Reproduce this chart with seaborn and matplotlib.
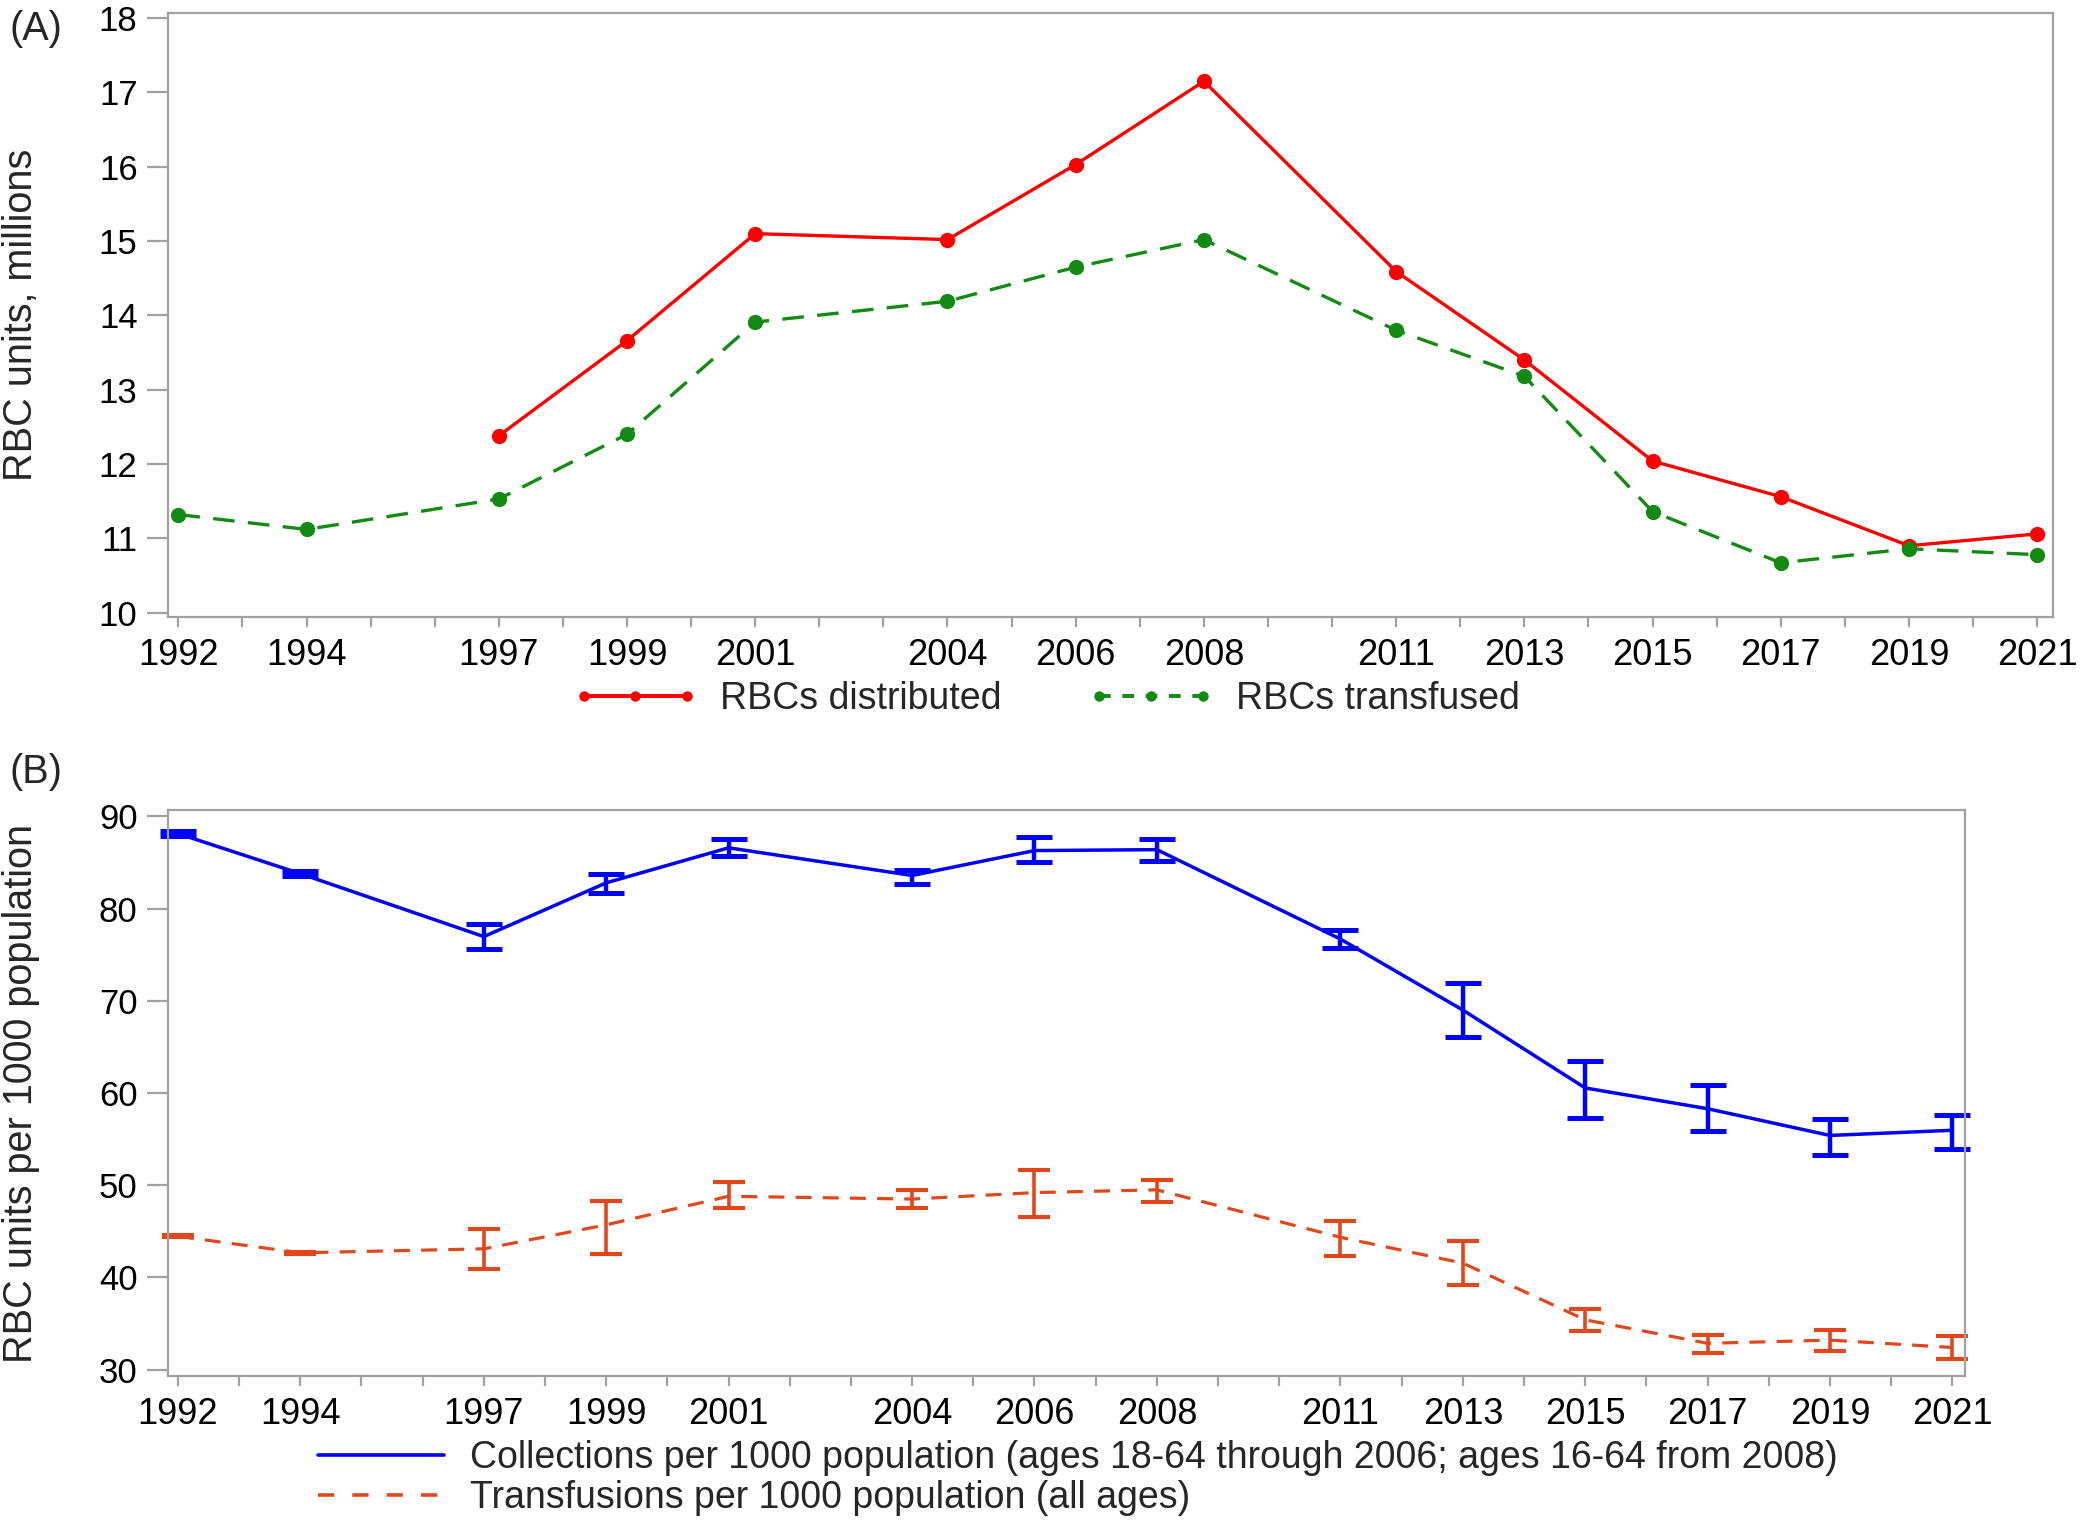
import numpy as np
import matplotlib
matplotlib.use("Agg")
import matplotlib.pyplot as plt
from matplotlib.lines import Line2D
import seaborn as sns

# survey years shown on both panels
years = [1992, 1994, 1997, 1999, 2001, 2004, 2006, 2008, 2011, 2013, 2015, 2017, 2019, 2021]
dist_years = [1997, 1999, 2001, 2004, 2006, 2008, 2011, 2013, 2015, 2017, 2019, 2021]

# panel A: RBC units, millions
rbc_distributed = [12.38, 13.66, 15.10, 15.02, 16.03, 17.15, 14.59, 13.40, 12.04, 11.56, 10.90, 11.06]
rbc_transfused = [11.32, 11.12, 11.53, 12.40, 13.91, 14.19, 14.65, 15.02, 13.80, 13.18, 11.36, 10.67, 10.86, 10.78]

# panel B: per 1000 population, with lower / upper limits
collections = [88.15, 83.80, 76.97, 82.80, 86.60, 83.60, 86.30, 86.40, 76.70, 69.00, 60.55, 58.30, 55.40, 55.96]
coll_lo = [87.90, 83.55, 75.60, 81.70, 85.70, 82.70, 85.10, 85.20, 75.75, 66.04, 57.30, 55.90, 53.30, 53.96]
coll_hi = [88.40, 84.05, 78.30, 83.80, 87.60, 84.20, 87.80, 87.60, 77.65, 71.95, 63.50, 60.90, 57.20, 57.65]
transfusions = [44.46, 42.67, 43.10, 45.70, 48.80, 48.50, 49.20, 49.50, 44.35, 41.55, 35.40, 32.85, 33.20, 32.40]
trans_lo = [44.36, 42.57, 40.90, 42.50, 47.50, 47.50, 46.60, 48.20, 42.35, 39.20, 34.20, 31.85, 32.00, 31.20]
trans_hi = [44.56, 42.77, 45.30, 48.30, 50.30, 49.50, 51.60, 50.60, 46.10, 44.00, 36.60, 33.80, 34.30, 33.60]

all_years = list(range(1992, 2022))
year_labels = [str(y) if y in years else "" for y in all_years]

RED = "#FF0000"
GREEN = "#138A13"
BLUE = "#0000FF"
ORANGE = "#E0481C"
GRAY = "#A0A0A0"

sns.set_style("white")
plt.rcParams["font.family"] = ["Liberation Sans", "DejaVu Sans"]

XTICK_FS = 26
YTICK_FS = 25
LAB_FS = 28.5
LEG_FS = 27


def style_axes(ax):
    for s in ax.spines.values():
        s.set_visible(True)
        s.set_color(GRAY)
        s.set_linewidth(1.6)
    ax.set_xticks(all_years)
    ax.set_xticklabels(year_labels)
    ax.tick_params(axis="x", bottom=True, length=7, width=1.6, color=GRAY,
                   pad=8, labelsize=XTICK_FS, labelcolor="black")
    ax.tick_params(axis="y", left=True, length=15, width=1.6, color=GRAY,
                   pad=7, labelsize=YTICK_FS, labelcolor="black")
    ax.set_xlabel("")
    ax.grid(False)


fig = plt.figure(figsize=(20.8, 15.2), dpi=100)

# (A) units distributed / transfused
axA = fig.add_axes([0.0808, 0.594, 0.906, 0.3975])
sns.lineplot(x=dist_years, y=rbc_distributed, ax=axA, color=RED, linewidth=2.4,
             marker="o", markersize=11, markeredgewidth=0, legend=False)
sns.lineplot(x=years, y=rbc_transfused, ax=axA, color=GREEN, linewidth=2.4,
             linestyle=(0, (6.5, 4)), marker="o", markersize=11, markeredgewidth=0, legend=False)
axA.set_xlim(1991.84, 2021.24)
axA.set_ylim(9.94, 18.07)
axA.set_yticks(range(10, 19))
style_axes(axA)
axA.set_ylabel("RBC units, millions", fontsize=LAB_FS)
axA.yaxis.set_label_coords(-0.068, 0.5)

legA = [
    Line2D([], [], color=RED, linewidth=2.8, marker="o", markersize=7.5, markeredgewidth=0),
    Line2D([], [], color=GREEN, linewidth=2.8, linestyle=(0, (3, 3)), marker="o",
           markersize=7.5, markeredgewidth=0),
]
fig.legend(legA, ["RBCs distributed", "RBCs transfused"], loc="center",
           bbox_to_anchor=(0.503, 0.540), ncol=2, frameon=False, fontsize=LEG_FS,
           handlelength=3.35, handletextpad=0.6, columnspacing=2.3, numpoints=3,
           borderpad=0, borderaxespad=0)

# (B) per 1000 population with intervals
axB = fig.add_axes([0.0808, 0.0947, 0.864, 0.3724])
sns.lineplot(x=years, y=collections, ax=axB, color=BLUE, linewidth=2.5, legend=False)
sns.lineplot(x=years, y=transfusions, ax=axB, color=ORANGE, linewidth=2.3,
             linestyle=(0, (5, 3.5)), legend=False)

c = np.array(collections)
t = np.array(transfusions)
ebc = axB.errorbar(years, c, yerr=[c - np.array(coll_lo), np.array(coll_hi) - c], fmt="none",
                   ecolor=BLUE, elinewidth=3.2, capsize=13, capthick=3.6)
ebt = axB.errorbar(years, t, yerr=[t - np.array(trans_lo), np.array(trans_hi) - t], fmt="none",
                   ecolor=ORANGE, elinewidth=2.6, capsize=11.5, capthick=3.0)
for eb in (ebc, ebt):
    for art in list(eb.lines[1]) + list(eb.lines[2]):
        art.set_clip_on(False)

axB.set_xlim(1991.84, 2021.21)
axB.set_ylim(29.3, 90.7)
axB.set_yticks(range(30, 91, 10))
style_axes(axB)
axB.set_ylabel("RBC units per 1000 population", fontsize=LAB_FS)
axB.yaxis.set_label_coords(-0.0712, 0.5)

legB = [
    Line2D([], [], color=BLUE, linewidth=2.6),
    Line2D([], [], color=ORANGE, linewidth=2.6, linestyle=(0, (4.5, 5))),
]
fig.legend(legB, ["Collections per 1000 population (ages 18-64 through 2006; ages 16-64 from 2008)",
                  "Transfusions per 1000 population (all ages)"],
           loc="center left", bbox_to_anchor=(0.1529, 0.0276), frameon=False, fontsize=LEG_FS,
           handlelength=3.35, handletextpad=0.7, labelspacing=0.1, borderpad=0, borderaxespad=0)

fig.text(10 / 2080, 1 - 29 / 1520, "(A)", ha="left", va="center", fontsize=LAB_FS)
fig.text(10 / 2080, 1 - 772 / 1520, "(B)", ha="left", va="center", fontsize=LAB_FS)

fig.savefig("out.png", dpi=100)
